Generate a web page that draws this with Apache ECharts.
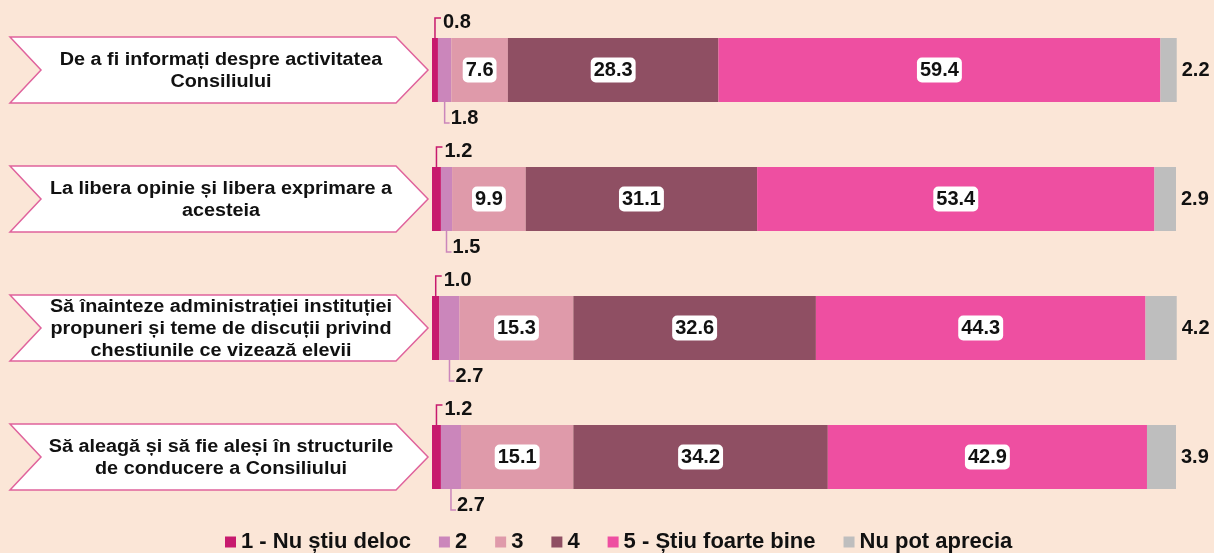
<!DOCTYPE html>
<html><head><meta charset="utf-8">
<script src="https://cdn.jsdelivr.net/npm/echarts@6/dist/echarts.min.js"></script>
<style>html,body{margin:0;padding:0;background:#FBE6D7;}#c{width:1214px;height:553px;}</style>
</head><body><div id="c"></div>
<script>
const categories = [
  "De a fi informați despre activitatea\nConsiliului",
  "La libera opinie și libera exprimare a\nacesteia",
  "Să înainteze administrației instituției\npropuneri și teme de discuții privind\nchestiunile ce vizează elevii",
  "Să aleagă și să fie aleși în structurile\nde conducere a Consiliului"
];
const seriesNames = ["1 - Nu știu deloc", "2", "3", "4", "5 - Știu foarte bine", "Nu pot aprecia"];
const s1 = [0.8, 1.2, 1.0, 1.2];
const s2 = [1.8, 1.5, 2.7, 2.7];
const s3 = [7.6, 9.9, 15.3, 15.1];
const s4 = [28.3, 31.1, 32.6, 34.2];
const s5 = [59.4, 53.4, 44.3, 42.9];
const s6 = [2.2, 2.9, 4.2, 3.9];

const FONT = 'Liberation Sans, Arial, sans-serif';
const colors = ["#C71A6E", "#CB86BB", "#DF9AAA", "#8F4F63", "#EE4FA1", "#BEBEBE"];
const HALF = 32;
const boxLabel = {
  show: true, position: 'inside', color: '#111', fontWeight: 'bold', fontSize: 20, lineHeight: 21,
  fontFamily: FONT,
  backgroundColor: '#fff', borderRadius: 5, padding: [3, 3, 1, 3],
  formatter: p => p.value.toFixed(1)
};
function barSeries(i, data, label) {
  return {
    name: seriesNames[i], type: 'bar', stack: 'all', data: data, barWidth: 64,
    itemStyle: { color: colors[i] }, clip: false,
    label: label || { show: false }, silent: true
  };
}

const chart = echarts.init(document.getElementById('c'));
chart.setOption({
  backgroundColor: '#FBE6D7',
  animation: false,
  textStyle: { fontFamily: FONT },
  grid: { left: 432, width: 744, top: 5.5, height: 516 },
  xAxis: { type: 'value', min: 0, max: 100, show: false },
  yAxis: { type: 'category', data: categories, inverse: true, show: false },
  legend: {
    data: seriesNames, top: 526, left: 220, itemWidth: 11, itemHeight: 11, itemGap: 28,
    icon: 'rect',
    textStyle: { color: '#111', fontWeight: 'bold', fontSize: 22, fontFamily: FONT }
  },
  series: [
    barSeries(0, s1),
    barSeries(1, s2),
    barSeries(2, s3, boxLabel),
    barSeries(3, s4, boxLabel),
    barSeries(4, s5, boxLabel),
    barSeries(5, s6, { show: true, position: 'right', distance: 5, color: '#111', fontWeight: 'bold', fontSize: 20,
      fontFamily: FONT, formatter: p => p.value.toFixed(1) }),
    {
      type: 'custom', name: 'arrows', silent: true, clip: false,
      data: categories.map((c, i) => [0, i]),
      renderItem: function (params, api) {
        const idx = api.value(1);
        const y = api.coord([0, idx])[1];
        const t = y - 33, b = y + 33;
        return {
          type: 'group', children: [
            { type: 'polygon', shape: { points: [[10, t], [396, t], [428, y], [396, b], [10, b], [41, y]] },
              style: { fill: '#fff', stroke: '#E0639C', lineWidth: 1.5 } },
            { type: 'text', x: 221, y: y + 1, scaleX: 1.1, style: { text: categories[idx], align: 'center', verticalAlign: 'middle',
              fill: '#111', fontWeight: 'bold', fontSize: 18, lineHeight: 22, fontFamily: FONT } }
          ]
        };
      }
    },
    {
      type: 'custom', name: 'small', silent: true, clip: false,
      data: s1.map((v, i) => [i, v, s2[i]]),
      renderItem: function (params, api) {
        const idx = api.value(0), v1 = api.value(1), v2 = api.value(2);
        const y = api.coord([0, idx])[1];
        const top = y - HALF, bot = y + HALF;
        const x1 = api.coord([v1 / 2, idx])[0];
        const x2 = api.coord([v1 + v2 / 2, idx])[0];
        const ts = { fill: '#111', fontWeight: 'bold', fontSize: 20, fontFamily: FONT, verticalAlign: 'middle', align: 'left' };
        return {
          type: 'group', children: [
            { type: 'polyline', shape: { points: [[x1, top], [x1, top - 20], [x1 + 6, top - 20]] },
              style: { stroke: colors[0], lineWidth: 1.5, fill: null } },
            { type: 'text', x: x1 + 8, y: top - 16, style: Object.assign({ text: v1.toFixed(1) }, ts) },
            { type: 'polyline', shape: { points: [[x2, bot], [x2, bot + 21], [x2 + 5, bot + 21]] },
              style: { stroke: colors[1], lineWidth: 1.5, fill: null } },
            { type: 'text', x: x2 + 6, y: bot + 16, style: Object.assign({ text: v2.toFixed(1) }, ts) }
          ]
        };
      }
    }
  ]
});
</script></body></html>
